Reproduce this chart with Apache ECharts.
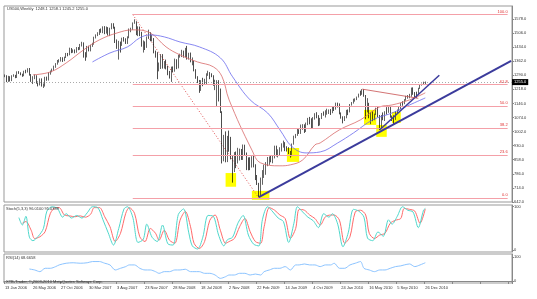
<!DOCTYPE html>
<html><head><meta charset="utf-8">
<script src="https://cdn.jsdelivr.net/npm/echarts@6/dist/echarts.min.js"></script>
<style>html,body{margin:0;padding:0;background:#fff}#c{width:537px;height:299px}</style>
</head><body><div id="c"></div><script>
// ---- tick labels (one every 16 weekly bars) ----
const tickLabels = ["13 Jan 2006","26 May 2006","27 Oct 2006","30 Mar 2007","3 Aug 2007","23 Nov 2007","28 Mar 2008","18 Jul 2008","2 Nov 2008","22 Feb 2009","14 Jun 2009","4 Oct 2009","24 Jan 2010","16 May 2010","5 Sep 2010","26 Dec 2010"];
const priceTicks = [642,714,786,858,930,1002,1074,1146,1218,1290,1362,1434,1506,1578];
const oscTicks = [0,100];

// ---- weekly OHLC ----
const opens = [1285,1287,1261,1283,1264,1287,1289,1281,1307,1302,
1295,1289,1311,1310,1325,1291,1267,1280,1288,1253,
1245,1270,1236,1240,1278,1266,1303,1311,1321,1335,
1349,1365,1368,1377,1364,1381,1400,1396,1427,1410,
1418,1409,1430,1422,1448,1456,1387,1386,1437,1421,
1443,1453,1484,1495,1505,1522,1515,1536,1507,1532,
1502,1530,1552,1534,1458,1433,1453,1445,1479,1473,
1454,1484,1526,1527,1557,1562,1500,1535,1509,1453,
1458,1440,1481,1504,1468,1478,1411,1401,1325,1330,
1395,1331,1353,1331,1294,1288,1330,1316,1370,1332,
1390,1398,1413,1388,1426,1375,1400,1360,1360,1317,
1278,1262,1239,1261,1257,1260,1296,1298,1293,1283,
1242,1252,1255,1213,1099,899,940,877,968,930,
873,800,896,876,879,887,873,931,890,850,
832,826,869,827,770,735,683,756,768,816,
843,857,870,866,877,929,883,887,919,940,
946,921,918,896,880,940,979,987,1010,1005,
1026,1029,1016,1042,1068,1044,1025,1071,1087,1080,
1036,1069,1093,1091,1091,1106,1106,1102,1127,1115,
1145,1136,1092,1074,1066,1075,1109,1105,1139,1150,
1160,1167,1179,1194,1192,1217,1187,1111,1136,1087,
1089,1065,1092,1117,1076,1022,1078,1065,1102,1101,
1121,1079,1071,1065,1104,1110,1125,1148,1147,1166,
1176,1183,1183,1225,1200,1199,1190,1224,1240,1244,
1248.1];
const highs = [1294,1290,1287,1285,1290,1295,1292,1310,1311,1305,
1298,1313,1318,1326,1327,1296,1285,1294,1290,1258,
1274,1274,1248,1282,1283,1306,1314,1324,1339,1352,
1368,1372,1383,1382,1385,1404,1404,1431,1429,1422,
1422,1434,1434,1450,1461,1458,1408,1440,1441,1446,
1456,1487,1499,1510,1526,1529,1540,1541,1539,1536,
1533,1556,1556,1538,1473,1466,1462,1482,1485,1479,
1489,1529,1533,1560,1576,1566,1540,1539,1512,1468,
1463,1488,1523,1510,1498,1480,1416,1408,1355,1397,
1398,1362,1370,1339,1312,1334,1335,1375,1372,1395,
1400,1420,1416,1430,1440,1405,1406,1381,1365,1321,
1285,1266,1265,1277,1272,1300,1313,1306,1300,1290,
1267,1265,1265,1222,1106,985,1003,980,1007,975,
882,897,900,919,915,913,936,935,895,870,
871,876,880,835,780,740,767,805,833,846,
872,875,878,878,930,930,911,922,942,956,
948,927,922,903,941,981,990,1018,1014,1038,
1040,1039,1048,1072,1077,1070,1076,1096,1101,1086,
1072,1097,1105,1111,1119,1115,1117,1130,1130,1150,
1150,1146,1100,1080,1081,1113,1115,1143,1153,1170,
1172,1181,1196,1211,1219,1219,1189,1173,1149,1101,
1106,1094,1124,1129,1087,1087,1100,1106,1127,1130,
1128,1084,1085,1107,1115,1131,1149,1157,1168,1185,
1189,1195,1227,1228,1204,1206,1226,1243,1247,1257,
1258.1];
const lows = [1280,1255,1256,1258,1260,1282,1275,1276,1297,1290,
1282,1285,1300,1304,1288,1256,1245,1270,1247,1233,
1238,1232,1225,1232,1262,1263,1293,1305,1313,1328,
1344,1355,1360,1358,1362,1378,1387,1392,1403,1405,
1402,1405,1418,1420,1437,1380,1364,1381,1412,1412,
1435,1446,1478,1490,1496,1507,1505,1500,1503,1493,
1490,1525,1528,1455,1425,1370,1406,1440,1462,1450,
1450,1479,1510,1522,1553,1495,1490,1490,1436,1406,
1419,1430,1475,1464,1463,1402,1380,1270,1310,1322,
1324,1324,1320,1290,1273,1256,1305,1308,1321,1325,
1380,1383,1380,1382,1370,1370,1356,1341,1310,1272,
1250,1200,1210,1234,1244,1245,1287,1270,1280,1236,
1214,1133,1156,1097,839,850,845,846,899,860,
741,795,815,839,854,857,857,880,805,804,
805,818,819,754,729,667,670,730,765,781,
825,832,845,840,865,875,870,880,900,920,
902,900,887,869,876,935,968,980,990,990,
1011,995,1000,1035,1039,1018,1019,1063,1070,1030,
1033,1066,1083,1074,1088,1092,1087,1096,1107,1114,
1125,1090,1068,1044,1056,1070,1086,1100,1135,1145,
1155,1163,1176,1185,1190,1180,1065,1100,1070,1040,
1055,1060,1087,1075,1010,1019,1060,1056,1089,1098,
1073,1056,1039,1062,1096,1107,1117,1134,1142,1160,
1170,1172,1180,1190,1174,1173,1187,1220,1237,1240,
1245.2];
const closes = [1287,1261,1283,1264,1287,1289,1281,1307,1302,1295,
1289,1311,1310,1325,1291,1267,1280,1288,1253,1245,
1270,1236,1240,1278,1266,1303,1311,1321,1335,1349,
1365,1368,1377,1364,1381,1400,1396,1427,1410,1418,
1409,1430,1422,1448,1456,1387,1386,1437,1421,1443,
1453,1484,1495,1505,1522,1515,1536,1507,1532,1502,
1530,1552,1534,1458,1433,1453,1445,1479,1473,1454,
1484,1526,1527,1557,1562,1500,1535,1509,1453,1458,
1440,1481,1504,1468,1478,1411,1401,1325,1330,1395,
1331,1353,1331,1294,1288,1330,1316,1370,1332,1390,
1398,1413,1388,1426,1375,1400,1360,1360,1317,1278,
1262,1239,1261,1257,1260,1296,1298,1293,1283,1242,
1252,1255,1213,1099,899,940,877,968,930,873,
800,896,876,879,887,873,931,890,850,832,
826,869,827,770,735,683,756,768,816,843,
857,870,866,877,929,883,887,919,940,946,
921,918,896,880,940,979,987,1010,1005,1026,
1029,1016,1042,1068,1044,1025,1071,1087,1080,1036,
1069,1093,1091,1091,1106,1106,1102,1127,1115,1145,
1136,1092,1074,1066,1075,1109,1105,1139,1150,1160,
1167,1179,1194,1192,1217,1187,1111,1136,1087,1089,
1065,1092,1117,1076,1022,1078,1065,1102,1101,1121,
1079,1071,1065,1104,1110,1125,1148,1147,1166,1176,
1183,1183,1225,1200,1199,1190,1224,1240,1244,1248,
1255.0];

// ---- moving averages as [bar, price] ----
const redMA = [[16,1292],[26,1307],[35,1353],[45,1420],[54,1471],[64,1506],[73,1522],[83,1506],[92,1435],[100,1394],[110,1358],[119,1333],[124,1282],[128,1164],[141,908],[146,842],[157,827],[163,832],[170,857],[177,934],[180,944],[191,1011],[203,1062],[214,1128],[221,1138],[231,1164],[240,1200]];
const blueMA = [[50,1358],[60,1404],[70,1435],[77,1481],[83,1496],[91,1486],[100,1460],[111,1435],[123,1379],[130,1282],[140,1164],[150,1097],[157,1011],[164,924],[172,893],[180,898],[190,944],[199,995],[210,1062],[221,1097],[231,1138],[240,1174]];

// ---- stochastic (5,3,3) and RSI(14), [bar, value] ----
const stochMain = [[8,75],[10,58],[12,78],[14,30],[16,22],[19,32],[22,50],[24,90],[27,100],[30,96],[33,76],[35,84],[38,74],[41,80],[44,74],[47,86],[50,100],[53,98],[56,70],[59,40],[62,12],[65,50],[68,95],[70,100],[73,76],[76,18],[79,25],[81,60],[84,30],[87,20],[90,58],[93,15],[96,12],[99,82],[102,95],[105,40],[107,10],[110,3],[113,30],[116,80],[119,78],[122,35],[125,10],[127,24],[130,30],[133,62],[136,80],[139,35],[142,14],[145,10],[147,70],[150,100],[153,88],[156,74],[159,66],[162,18],[165,62],[167,100],[170,88],[173,76],[176,68],[179,52],[182,84],[185,76],[187,84],[190,60],[193,8],[196,40],[199,94],[202,90],[205,76],[207,28],[210,22],[213,42],[216,32],[219,70],[221,60],[224,78],[227,100],[230,92],[233,88],[236,52],[239,92],[240,96]];
const stochSignal = [[10,62],[12,66],[15,46],[17,27],[20,31],[23,43],[26,85],[29,98],[31,98],[34,81],[37,79],[40,77],[43,79],[46,76],[49,83],[51,98],[54,98],[57,77],[60,54],[63,20],[66,39],[69,85],[71,98],[74,85],[77,31],[80,20],[83,50],[86,39],[88,23],[91,46],[94,23],[97,16],[100,69],[103,89],[106,54],[108,16],[111,4],[114,20],[117,69],[120,81],[123,46],[126,16],[128,20],[131,27],[134,54],[137,73],[140,43],[143,20],[146,16],[148,54],[151,98],[154,92],[157,81],[160,73],[163,27],[166,50],[168,94],[171,92],[174,81],[177,73],[180,58],[183,77],[186,81],[188,81],[191,69],[194,16],[197,31],[200,88],[203,92],[206,81],[208,39],[211,27],[214,35],[217,39],[220,62],[223,69],[226,73],[228,96],[231,94],[234,90],[237,62],[240,95]];
const rsi = [[14,50],[17,46],[20,39],[23,53],[26,53],[29,60],[31,67],[35,74],[39,76],[43,74],[47,76],[50,81],[54,81],[57,74],[60,67],[63,46],[66,53],[69,60],[71,67],[74,67],[77,53],[80,46],[83,46],[86,39],[88,32],[91,39],[94,39],[97,46],[100,46],[103,49],[106,39],[108,39],[111,39],[114,32],[117,32],[120,25],[123,11],[126,18],[128,25],[131,25],[134,32],[137,32],[140,25],[143,29],[146,25],[148,39],[151,46],[154,53],[157,53],[160,60],[163,46],[166,67],[168,67],[171,71],[174,67],[177,67],[180,60],[183,67],[186,67],[188,74],[191,53],[194,53],[197,67],[200,74],[203,81],[205,53],[208,46],[211,39],[214,46],[217,46],[220,53],[223,60],[226,63],[228,67],[231,71],[234,60],[237,67],[240,76]];

// ---- drawn objects (bar index, price) ----
const fibLevels = [0,23.6,38.2,50,61.8,100];
const fibLow = 662, fibHigh = 1600, fibFromBar = 73, fibToBar = 287, fibLowBar = 145;
const trendA = [[145,667],[289,1363]];
const trendB = [[214,1011],[248,1290]];
const trendRed = [[204,1219],[236,1172]];
const boxes = [[[126,790],[132,720]],[[141,699],[151,653]],[[161,918],[168,847]],[[205,1113],[212,1036]],[[212,1036],[218,975]],[[221,1102],[226,1046]]];
const stochVals = ['96.0100','95.0389'];
const rsiVal = '68.6658';
const totalBars = 290;

// ---- build ----
const cats = [];
for (let i = 0; i < totalBars; i++) cats.push(i % 16 === 0 && tickLabels[i/16] ? tickLabels[i/16] : '');
const candles = closes.map((c,i)=>[opens[i], c, lows[i], highs[i]]);
const last = closes.length - 1;
const FS = 4, FF = 'Liberation Sans';
const fibVal = p => fibLow + p/100*(fibHigh - fibLow);

const chart = echarts.init(document.getElementById('c'), null, {renderer:'canvas'});
const txt = (t, l, top) => ({text:t, left:l, top:top, padding:0, textStyle:{fontSize:FS, fontWeight:'normal', color:'#333', fontFamily:FF}});
const xa = (g, showLab) => ({type:'category', gridIndex:g, data:cats, boundaryGap:true,
  axisLine:{show:showLab, lineStyle:{color:'#888', width:1}},
  axisTick:{show:showLab, interval:(i)=>i%16===0, length:3, lineStyle:{color:'#888'}},
  axisLabel:{show:showLab, interval:(i)=>i%16===0, align:'left', fontSize:FS, fontFamily:FF, color:'#333', margin:3},
  splitLine:{show:false}});
const ya = (g, min, max, ticks, fmt) => ({type:'value', gridIndex:g, position:'right', min:min, max:max,
  axisLine:{show:true, lineStyle:{color:'#888'}},
  axisTick:{show:true, customValues:ticks, length:2, lineStyle:{color:'#888'}},
  axisLabel:{show:true, customValues:ticks, formatter:fmt, fontSize:FS, fontFamily:FF, color:'#333', margin:2},
  splitLine:{show:false}});

const option = {
  animation:false,
  backgroundColor:'#fff',
  title:[
    txt(`US500,Weekly  ${opens[last].toFixed(1)} ${highs[last].toFixed(1)} ${lows[last].toFixed(1)} ${closes[last].toFixed(1)}`, 7, 7),
    txt(`Stoch(5,3,3) ${stochVals[0]} ${stochVals[1]}`, 6, 207),
    txt(`RSI(14) ${rsiVal}`, 6, 256),
    txt('XTB-Trader, © 2003-2010 MetaQuotes Software Corp.', 6, 280)
  ],
  grid:[
    {left:4, top:6, width:508, height:196, show:true, borderColor:'#999', borderWidth:1},
    {left:4, top:205, width:508, height:47, show:true, borderColor:'#999', borderWidth:1},
    {left:4, top:254, width:508, height:29, show:true, borderColor:'#999', borderWidth:1}
  ],
  xAxis:[xa(0,false), xa(1,false), xa(2,true)],
  yAxis:[
    ya(0, 642, 1644, priceTicks, v=>v.toFixed(1)),
    ya(1, -4, 104, oscTicks, v=>String(v)),
    ya(2, -8.3, 112.5, oscTicks, v=>String(v))
  ],
  series:[
    {type:'line', name:'boxes', xAxisIndex:0, yAxisIndex:0, data:[], z:1, silent:true,
      markArea:{silent:true, itemStyle:{color:'#ffff00', opacity:1}, data:boxes.map(b=>[{coord:b[0]},{coord:b[1]}])}},
    {type:'line', name:'fib', xAxisIndex:0, yAxisIndex:0, z:2, silent:true, showSymbol:false,
      data:[[fibFromBar, fibHigh],[fibLowBar, fibLow]],
      lineStyle:{color:'#e05050', width:1, type:[1,2]},
      markLine:{silent:true, symbol:['none','none'], animation:false,
        lineStyle:{color:'#f4a0a8', width:1, type:'solid'},
        label:{show:true, position:'insideEndTop', fontSize:FS, fontFamily:FF, color:'#e03030', distance:[0,1]},
        data:fibLevels.map(p=>[{coord:[fibFromBar, fibVal(p)], label:{formatter:p.toFixed(1)}},{coord:[fibToBar, fibVal(p)]}])}},
    {type:'candlestick', name:'US500', xAxisIndex:0, yAxisIndex:0, z:3, barWidth:1.2,
      data:candles,
      itemStyle:{color:'#ffffff', color0:'#000000', borderColor:'#222', borderColor0:'#000', borderWidth:0.7},
      markLine:{silent:true, symbol:['none','none'],
        lineStyle:{color:'#aaa', width:1, type:[1,2]},
        label:{show:true, position:'end', distance:0, formatter:closes[last].toFixed(1), backgroundColor:'#000', color:'#fff', fontSize:FS, fontFamily:FF, padding:[1,2]},
        data:[{yAxis:closes[last]}]}},
    {type:'line', name:'redMA', xAxisIndex:0, yAxisIndex:0, z:4, data:redMA, smooth:0.4, showSymbol:false, lineStyle:{color:'#d86a6a', width:0.8}},
    {type:'line', name:'blueMA', xAxisIndex:0, yAxisIndex:0, z:4, data:blueMA, smooth:0.4, showSymbol:false, lineStyle:{color:'#6a6aee', width:0.8}},
    {type:'line', name:'trendA', xAxisIndex:0, yAxisIndex:0, z:5, data:trendA, showSymbol:false, lineStyle:{color:'#3b3b9c', width:2}},
    {type:'line', name:'trendB', xAxisIndex:0, yAxisIndex:0, z:5, data:trendB, showSymbol:false, lineStyle:{color:'#3b3b9c', width:1.5}},
    {type:'line', name:'trendRed', xAxisIndex:0, yAxisIndex:0, z:5, data:trendRed, showSymbol:false, lineStyle:{color:'#c85050', width:0.8}},
    {type:'line', name:'stochSignal', xAxisIndex:1, yAxisIndex:1, data:stochSignal, smooth:0.3, showSymbol:false, lineStyle:{color:'#ff6a6a', width:1}},
    {type:'line', name:'stochMain', xAxisIndex:1, yAxisIndex:1, data:stochMain, smooth:0.3, showSymbol:false, lineStyle:{color:'#4fd8cc', width:1}},
    {type:'line', name:'rsi', xAxisIndex:2, yAxisIndex:2, data:rsi, smooth:0.3, showSymbol:false, lineStyle:{color:'#8cc4ff', width:1}}
  ]
};
chart.setOption(option);
</script></body></html>
